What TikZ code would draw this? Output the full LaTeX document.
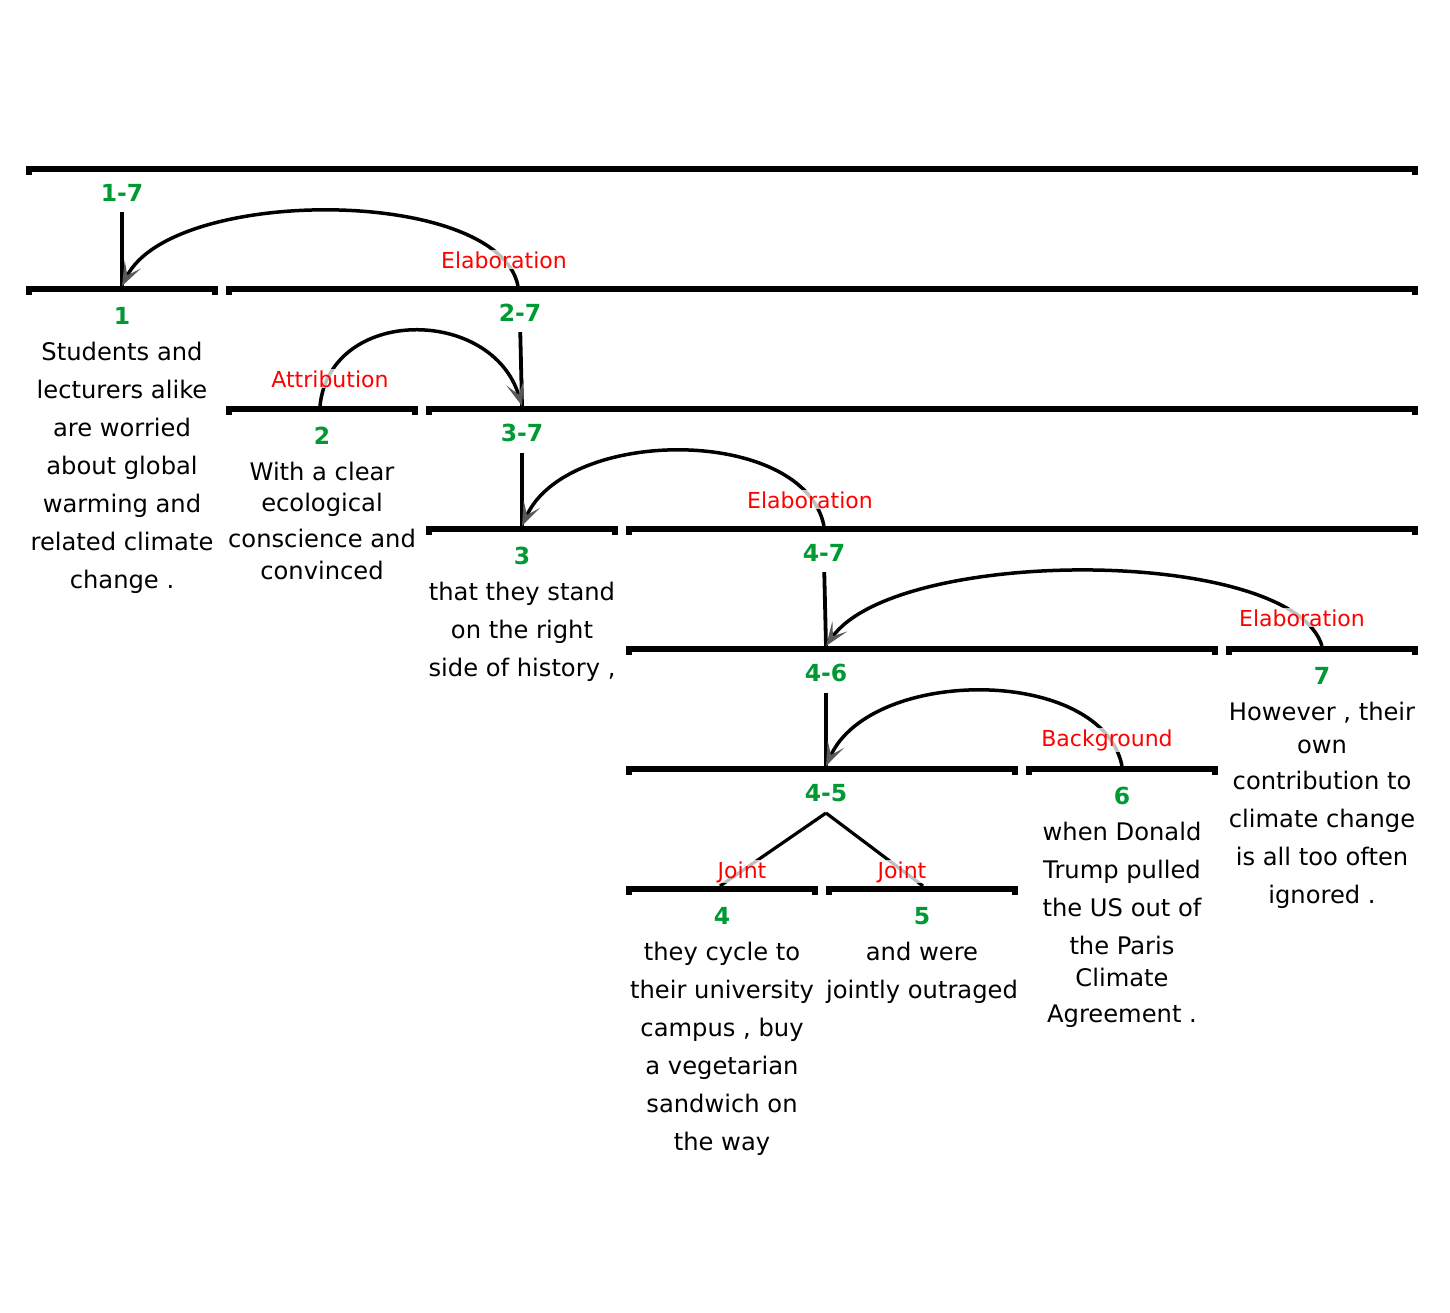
\documentclass[tikz,border=0pt]{standalone}
\usepackage{fontspec}
\setmainfont{DejaVu Sans}
\usetikzlibrary{arrows.meta}
\definecolor{spangreen}{RGB}{0,153,51}
\definecolor{relred}{RGB}{255,0,0}
\tikzset{
    spanbar/.style={line width=6pt, line join=miter},
    spanno/.style={inner sep=0pt, anchor=base, text=spangreen, font=\fontsize{23.5}{26}\selectfont\bfseries},
    edu/.style={inner sep=0pt, anchor=north, align=center, font=\fontsize{24.2}{38}\selectfont, execute at begin node={\rule{0pt}{20pt}}},
    relname/.style={inner sep=1pt, anchor=base, text=relred, fill=white, fill opacity=0.75, text opacity=1, font=\fontsize{22}{26}\selectfont},
    nucline/.style={line width=3.8pt, shorten <=11pt},
    relarc/.style={line width=3.5pt, -{Stealth[length=24pt, width=18pt, inset=12pt, black!65]}},
    jointline/.style={line width=3.2pt},
}
\begin{document}
\begin{tikzpicture}[x=1pt, y=-1pt]
        \useasboundingbox (0,0) rectangle (1450,1312);
        \draw[spanbar] (29,175) |- (1415,169) -- ++(0,6);
        \draw[spanbar] (29,295) |- (215,289) -- ++(0,6);
        \draw[spanbar] (229,295) |- (1415,289) -- ++(0,6);
        \draw[spanbar] (229,415) |- (415,409) -- ++(0,6);
        \draw[spanbar] (429,415) |- (1415,409) -- ++(0,6);
        \draw[spanbar] (429,535) |- (615,529) -- ++(0,6);
        \draw[spanbar] (629,535) |- (1415,529) -- ++(0,6);
        \draw[spanbar] (629,655) |- (1215,649) -- ++(0,6);
        \draw[spanbar] (1229,655) |- (1415,649) -- ++(0,6);
        \draw[spanbar] (629,775) |- (1015,769) -- ++(0,6);
        \draw[spanbar] (1029,775) |- (1215,769) -- ++(0,6);
        \draw[spanbar] (629,895) |- (815,889) -- ++(0,6);
        \draw[spanbar] (829,895) |- (1015,889) -- ++(0,6);

        \node[spanno] (l17) at (122,201) {1-7};
        \node[spanno] (l1) at (122,324) {1};
        \node[spanno] (l27) at (520,321) {2-7};
        \node[spanno] (l2) at (322,444) {2};
        \node[spanno] (l37) at (522,441) {3-7};
        \node[spanno] (l3) at (522,564) {3};
        \node[spanno] (l47) at (824,561) {4-7};
        \node[spanno] (l7) at (1322,684) {7};
        \node[spanno] (l46) at (826,681) {4-6};
        \node[spanno] (l6) at (1122,804) {6};
        \node[spanno] (l45) at (826,801) {4-5};
        \node[spanno] (l4) at (722,924) {4};
        \node[spanno] (l5) at (922,924) {5};

        \coordinate (p1) at (122,286);
        \coordinate (p27) at (518,286);
        \coordinate (p2) at (320,406);
        \coordinate (p37) at (522,406);
        \coordinate (p3) at (522,526);
        \coordinate (p47) at (824,526);
        \coordinate (p46) at (826,646);
        \coordinate (p7) at (1322,646);
        \coordinate (p45) at (826,766);
        \coordinate (p6) at (1122,766);
        \coordinate (j45) at (826,813);
        \coordinate (p4) at (720,886);
        \coordinate (p5) at (923,886);

        \draw[nucline] (l17.south) -- (p1);
        \draw[nucline] (l27.south) -- (p37);
        \draw[nucline] (l37.south) -- (p3);
        \draw[nucline] (l47.south) -- (p46);
        \draw[nucline] (l46.south) -- (p45);

        \draw[relarc] (p27) .. controls +(-20,-100) and +(50,-100) .. (p1);
        \draw[relarc] (p2) .. controls +(10,-100) and +(-30,-100) .. (p37);
        \draw[relarc] (p47) .. controls +(-20,-100) and +(45,-100) .. (p3);
        \draw[relarc] (p7) .. controls +(-30,-100) and +(70,-100) .. (p46);
        \draw[relarc] (p6) .. controls +(-20,-100) and +(45,-100) .. (p45);
        \draw[jointline] (j45) -- (p4);
        \draw[jointline] (j45) -- (p5);

        \node[relname] (r1) at (504,268) {Elaboration};
        \node[relname] (r2) at (330,387) {Attribution};
        \node[relname] (r3) at (810,508) {Elaboration};
        \node[relname] (r4) at (1302,626) {Elaboration};
        \node[relname] (r5) at (1107,746) {Background};
        \node[relname] (r6) at (742,878) {Joint};
        \node[relname] (r7) at (902,878) {Joint};

        \node[edu] (e1) at (122,342) {Students and\\lecturers alike\\are worried\\about global\\warming and\\related climate\\change .};
        \node[edu] (e2) at (322,462) {With a clear\\[-7pt]ecological\\[-2pt]conscience and\\[-6pt]convinced};
        \node[edu] (e3) at (522,582) {that they stand\\on the right\\side of history ,};
        \node[edu] (e4) at (722,942) {they cycle to\\their university\\campus , buy\\a vegetarian\\sandwich on\\the way};
        \node[edu] (e5) at (922,942) {and were\\jointly outraged};
        \node[edu] (e6) at (1122,822) {when Donald\\Trump pulled\\the US out of\\the Paris\\[-6pt]Climate\\[-2pt]Agreement .};
        \node[edu] (e7) at (1322,702) {However , their\\[-5pt]own\\[-2pt]contribution to\\climate change\\is all too often\\ignored .};
\end{tikzpicture}
\end{document}
